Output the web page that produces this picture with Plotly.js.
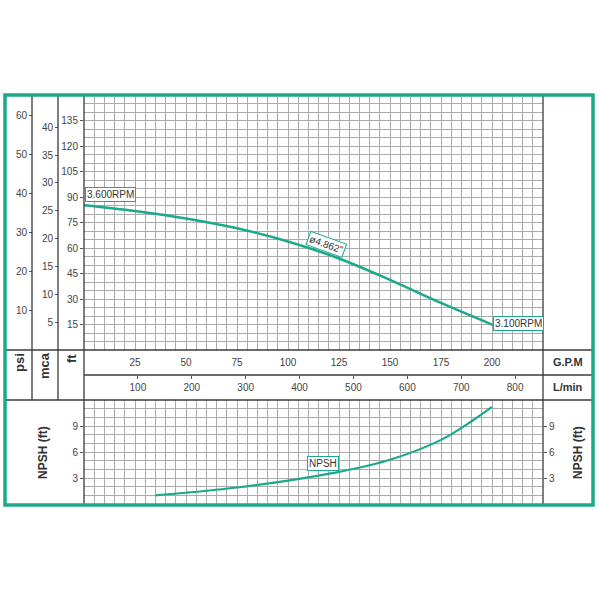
<!DOCTYPE html>
<html>
<head>
<meta charset="utf-8">
<script src="https://cdn.plot.ly/plotly-3.0.1.min.js"></script>
<style>html,body{margin:0;padding:0;background:#fff;}#chart{width:600px;height:600px;}</style>
</head>
<body>
<div id="chart"></div>
<script>
// ---- data ----
const gpmTicks = [25, 50, 75, 100, 125, 150, 175, 200];
const lpmTicks = [100, 200, 300, 400, 500, 600, 700, 800];
const ftTicks = [15, 30, 45, 60, 75, 90, 105, 120, 135];
const mcaTicks = [5, 10, 15, 20, 25, 30, 35, 40];
const psiTicks = [10, 20, 30, 40, 50, 60];
const npshTicks = [3, 6, 9];

const headGpm = [0, 25, 50, 75, 100, 125, 150, 175, 200.6];
const headFt = [85.3, 81.9, 77.5, 71.7, 63.9, 53.9, 41.3, 27.7, 14.7];

const npshGpm = [35, 50, 75, 100, 125, 150, 175, 190, 200];
const npshFt = [1.0, 1.3, 1.9, 2.7, 3.7, 5.1, 7.4, 9.55, 11.2];

// ---- layout helpers ----
const W = 600, H = 600;
const px = v => v / W;
const py = v => 1 - v / H;
const TEAL = '#1ba88b';
const GRID = '#ababab';
const DARK = '#3a3a3a';
const TXT = '#444';
const FONT = 'Liberation Sans, Arial, sans-serif';

const GPM_MAX = 225;
const FT_MAX = 149;
const LPM_PER_GPM = 3.78541;
const FT_PER_PSI = 2.3067;
const FT_PER_MCA = 3.2808;

const xDom = [px(84), px(543)];
const yUpDom = [py(350), py(97)];
const yLowDom = [py(504), py(400)];

const traces = [
  {x: headGpm, y: headFt, xaxis: 'x', yaxis: 'y', type: 'scatter', mode: 'lines',
   line: {color: TEAL, width: 2.5, shape: 'spline', smoothing: 1}, hoverinfo: 'skip', showlegend: false},
  {x: npshGpm, y: npshFt, xaxis: 'x3', yaxis: 'y4', type: 'scatter', mode: 'lines',
   line: {color: TEAL, width: 2.2, shape: 'spline', smoothing: 1}, hoverinfo: 'skip', showlegend: false},
  // empty traces so the extra scale axes get drawn
  {x: [], y: [], xaxis: 'x2', yaxis: 'y', type: 'scatter', mode: 'lines', showlegend: false},
  {x: [], y: [], xaxis: 'x', yaxis: 'y2', type: 'scatter', mode: 'lines', showlegend: false},
  {x: [], y: [], xaxis: 'x', yaxis: 'y3', type: 'scatter', mode: 'lines', showlegend: false},
  {x: [], y: [], xaxis: 'x3', yaxis: 'y5', type: 'scatter', mode: 'lines', showlegend: false}
];

const tickFont = {family: FONT, size: 10, color: TXT};

const layout = {
  width: W, height: H,
  margin: {l: 0, r: 0, t: 0, b: 0},
  paper_bgcolor: '#fff', plot_bgcolor: '#fff',
  showlegend: false,
  xaxis: {
    domain: xDom, anchor: 'y', range: [0, GPM_MAX],
    tickmode: 'array', tickvals: gpmTicks, ticks: '', tickfont: tickFont, ticklabelstandoff: 5,
    showgrid: true, gridcolor: GRID, gridwidth: 1,
    minor: {dtick: 5, tick0: 0, showgrid: true, gridcolor: GRID, gridwidth: 1},
    showline: false, zeroline: false, fixedrange: true
  },
  xaxis2: {
    overlaying: 'x', anchor: 'free', position: py(375), side: 'bottom',
    range: [0, GPM_MAX * LPM_PER_GPM],
    tickmode: 'array', tickvals: lpmTicks, ticks: 'outside', ticklen: 3, tickcolor: '#555',
    tickfont: tickFont, showgrid: false, showline: false, zeroline: false
  },
  xaxis3: {
    domain: xDom, anchor: 'y4', range: [0, GPM_MAX],
    tickmode: 'linear', tick0: 0, dtick: 5, ticks: '', showticklabels: false,
    showgrid: true, gridcolor: GRID, gridwidth: 1, showline: false, zeroline: false
  },
  yaxis: {
    domain: yUpDom, anchor: 'x', range: [0, FT_MAX],
    tickmode: 'array', tickvals: ftTicks, ticks: 'outside', ticklen: 3, tickcolor: '#555',
    tickfont: tickFont,
    showgrid: true, gridcolor: GRID, gridwidth: 1,
    minor: {dtick: 5, tick0: 0, showgrid: true, gridcolor: GRID, gridwidth: 1},
    showline: false, zeroline: false
  },
  yaxis2: {
    overlaying: 'y', anchor: 'free', position: px(58), side: 'left',
    range: [0, FT_MAX / FT_PER_MCA],
    tickmode: 'array', tickvals: mcaTicks, ticks: 'outside', ticklen: 3, tickcolor: '#555',
    tickfont: tickFont, showgrid: false, showline: false, zeroline: false
  },
  yaxis3: {
    overlaying: 'y', anchor: 'free', position: px(32), side: 'left',
    range: [0, FT_MAX / FT_PER_PSI],
    tickmode: 'array', tickvals: psiTicks, ticks: 'outside', ticklen: 3, tickcolor: '#555',
    tickfont: tickFont, showgrid: false, showline: false, zeroline: false
  },
  yaxis4: {
    domain: yLowDom, anchor: 'x3', range: [0, 12],
    tickmode: 'array', tickvals: npshTicks, ticks: 'outside', ticklen: 3, tickcolor: '#555',
    tickfont: tickFont,
    showgrid: true, gridcolor: GRID, gridwidth: 1,
    minor: {dtick: 1, tick0: 0, showgrid: true, gridcolor: GRID, gridwidth: 1},
    showline: false, zeroline: false
  },
  yaxis5: {
    overlaying: 'y4', anchor: 'x3', side: 'right', range: [0, 12],
    tickmode: 'array', tickvals: npshTicks, ticks: 'outside', ticklen: 3, tickcolor: '#555',
    tickfont: tickFont, showgrid: false, showline: false, zeroline: false
  },
  shapes: [],
  annotations: []
};

function hline(y, x0, x1, color, width) {
  layout.shapes.push({type: 'line', xref: 'paper', yref: 'paper', x0: px(x0), x1: px(x1), y0: py(y), y1: py(y),
    line: {color: color || DARK, width: width || 1.3}, layer: 'above'});
}
function vline(x, y0, y1, color, width) {
  layout.shapes.push({type: 'line', xref: 'paper', yref: 'paper', x0: px(x), x1: px(x), y0: py(y0), y1: py(y1),
    line: {color: color || DARK, width: width || 1.3}, layer: 'above'});
}
hline(350, 5, 593);
hline(375, 84, 593);
hline(400, 5, 593);
vline(32, 96, 400);
vline(58, 96, 400);
vline(84, 96, 505);
vline(543, 96, 505);
layout.shapes.push({type: 'rect', xref: 'paper', yref: 'paper', x0: px(5), x1: px(593), y0: py(505), y1: py(95),
  line: {color: TEAL, width: 3.5}, layer: 'above'});

function label(text, x, y, angle, size) {
  layout.annotations.push({text: '<b>' + text + '</b>', xref: 'paper', yref: 'paper', x: px(x), y: py(y),
    showarrow: false, textangle: angle || 0, font: {family: FONT, size: size || 12, color: '#333'},
    xanchor: 'center', yanchor: 'middle'});
}
label('psi', 19, 363, -90, 13);
label('mca', 44, 366, -90, 13);
label('ft', 71, 359, -90, 13);
label('G.P.M', 568, 362, 0, 11);
label('L/min', 568, 387, 0, 11);
label('NPSH (ft)', 43, 453, -90, 12);
label('NPSH (ft)', 578, 453, -90, 12);

function boxed(text, x, y, xref, yref, xanchor, angle) {
  layout.annotations.push({text: text, x: x, y: y, xref: xref, yref: yref, showarrow: false,
    xanchor: xanchor || 'center', yanchor: 'middle', textangle: angle || 0,
    font: {family: FONT, size: 10, color: '#333'}, bgcolor: '#fff', bordercolor: TEAL, borderwidth: 1, borderpad: 1});
}
boxed('3.600RPM', 0.5, 91.5, 'x', 'y', 'left');
boxed('3.100RPM', 200.6, 15.9, 'x', 'y', 'left');
boxed('ø4.862"', 119, 62.4, 'x', 'y', 'center', 20);
boxed('NPSH', 117.3, 4.7, 'x3', 'y4', 'center');

Plotly.newPlot('chart', traces, layout, {staticPlot: true, displayModeBar: false});
</script>
</body>
</html>
